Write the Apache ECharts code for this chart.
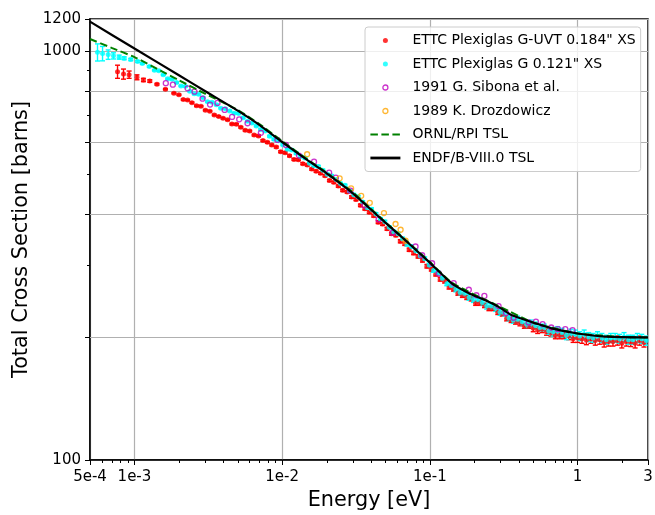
<!DOCTYPE html>
<html><head><meta charset="utf-8">
<script src="https://cdn.jsdelivr.net/npm/echarts@6/dist/echarts.min.js"></script>
<style>html,body{margin:0;padding:0;background:#fff}#c{width:655px;height:515px}</style>
</head><body><div id="c"></div>
<script>
// ---- axis ticks ----
const xTickValues = [5e-4, 1e-3, 1e-2, 1e-1, 1, 3];
const xTickLabels = ['5e-4', '1e-3', '1e-2', '1e-1', '1', '3'];
const yTickValues = [100, 1000, 1200];
const yTickLabels = ['100', '1000', '1200'];
const xMinorTicks = [6e-4, 7e-4, 8e-4, 9e-4, 2e-3, 3e-3, 4e-3, 5e-3, 6e-3, 7e-3, 8e-3, 9e-3,
  0.02, 0.03, 0.04, 0.05, 0.06, 0.07, 0.08, 0.09, 0.2, 0.3, 0.4, 0.5, 0.6, 0.7, 0.8, 0.9, 2];
const yMinorTicks = [300, 500, 700, 900];
const yGridExtra = [200, 400, 600, 800];

// ---- ETTC Plexiglas G-UVT 0.184" ----
const uvtE = [7.68e-4, 8.43e-4, 9.2e-4, 1.04e-3, 1.15e-3, 1.27e-3, 1.42e-3, 1.62e-3, 1.85e-3,
  2.00e-3, 2.14e-3, 2.29e-3, 2.45e-3, 2.63e-3, 2.82e-3, 3.02e-3, 3.24e-3, 3.47e-3, 3.72e-3,
  3.98e-3, 4.27e-3, 4.57e-3, 4.90e-3, 5.25e-3, 5.62e-3, 6.03e-3, 6.46e-3, 6.92e-3, 7.41e-3,
  7.94e-3, 8.51e-3, 9.12e-3, 9.77e-3, 0.01047, 0.01122, 0.01202, 0.01288, 0.01380, 0.01479,
  0.01585, 0.01698, 0.01820, 0.01950, 0.02089, 0.02239, 0.02399, 0.02570, 0.02754, 0.02951,
  0.03162, 0.03388, 0.03631, 0.03890, 0.04169, 0.04467, 0.04786, 0.05129, 0.05495, 0.05888,
  0.06310, 0.06761, 0.07244, 0.07762, 0.08318, 0.08913, 0.09550, 0.1023, 0.1096, 0.1175,
  0.1259, 0.1349, 0.1445, 0.1549, 0.1660, 0.1778, 0.1905, 0.2042, 0.2188, 0.2344,
  0.2512, 0.2692, 0.2884, 0.3090, 0.3311, 0.3548, 0.3802, 0.4074, 0.4365, 0.4677,
  0.5012, 0.5370, 0.5754, 0.6166, 0.6607, 0.7079, 0.7586, 0.8128, 0.8710, 0.9333,
  1.000, 1.072, 1.148, 1.230, 1.318, 1.413, 1.514, 1.622, 1.738, 1.862,
  1.995, 2.138, 2.291, 2.455, 2.630, 2.818];
const uvtV = [892, 880, 877, 864, 851, 846, 831, 808, 790,
  783, 762, 760, 749, 736, 734, 718, 714, 699, 693,
  686, 680, 664, 663, 652, 641, 638, 624, 621, 605,
  599, 590, 583, 568, 565, 555, 544, 543, 531, 527,
  515, 509, 503, 496, 483, 478, 468, 457, 453, 440,
  434, 420, 412, 404, 396, 382, 378, 368, 358, 355,
  343, 338, 327, 321, 315, 308, 298, 293, 285, 277,
  274, 265, 262, 256, 253, 250, 248, 242, 242, 239,
  235, 235, 230, 228, 222, 220, 218, 216, 213, 213,
  210, 208, 209, 206, 205, 202, 202, 202, 201, 198,
  199, 198, 196.5, 198, 196, 197, 194, 195, 195, 196,
  193, 195, 194.5, 193, 196, 194];
const uvtErr = [33, 25, 18, 12, 8, 6, 4, 3, 3,
  3, 3, 3, 3, 3, 3, 3, 3, 3, 3,
  3, 3, 3, 3, 3, 3, 3, 3, 3, 3,
  3, 3, 3, 3, 3, 3, 3, 3, 3, 3,
  3, 3, 3, 3, 3, 3, 3, 3, 3, 3,
  3, 3, 3, 3, 3, 3, 3, 3, 3, 3,
  3, 3, 3, 3, 3, 3, 3, 3, 3, 3,
  3, 3, 3, 3, 3, 3, 3, 3, 3, 3,
  3, 3, 3, 3, 3, 3, 3, 3, 3, 3,
  4, 4, 4, 4, 4, 4, 4, 4, 4, 4,
  5, 5, 5, 5, 5, 5, 5, 5, 5, 5,
  5, 5, 5, 5, 5, 5];

// ---- ETTC Plexiglas G 0.121" ----
const g121E = [5.62e-4, 6.08e-4, 6.64e-4, 7.21e-4, 7.88e-4, 8.52e-4, 9.44e-4, 1.05e-3, 1.13e-3, 1.26e-3,
  1.365e-3, 1.462e-3, 1.567e-3, 1.679e-3, 1.799e-3, 1.928e-3, 2.065e-3, 2.213e-3, 2.371e-3, 2.541e-3,
  2.723e-3, 2.917e-3, 3.126e-3, 3.350e-3, 3.589e-3, 3.846e-3, 4.121e-3, 4.416e-3, 4.732e-3, 5.070e-3,
  5.433e-3, 5.821e-3, 6.237e-3, 6.683e-3, 7.161e-3, 7.674e-3, 8.222e-3, 8.810e-3, 9.441e-3, 0.01012,
  0.01084, 0.01161, 0.01245, 0.01334, 0.01429, 0.01531, 0.01641, 0.01758, 0.01884, 0.02018,
  0.02163, 0.02317, 0.02483, 0.02661, 0.02851, 0.03055, 0.03273, 0.03508, 0.03758, 0.04027,
  0.04315, 0.04624, 0.04955, 0.05309, 0.05689, 0.06095, 0.06531, 0.06998, 0.07499, 0.08035,
  0.08610, 0.09226, 0.09886, 0.1059, 0.1135, 0.1216, 0.1303, 0.1396, 0.1496, 0.1603,
  0.1718, 0.1841, 0.1972, 0.2113, 0.2265, 0.2427, 0.2600, 0.2786, 0.2985, 0.3199,
  0.3428, 0.3673, 0.3936, 0.4217, 0.4519, 0.4842, 0.5188, 0.5559, 0.5957, 0.6383,
  0.6839, 0.7328, 0.7852, 0.8414, 0.9016, 0.9661, 1.035, 1.109, 1.189, 1.274,
  1.365, 1.462, 1.567, 1.679, 1.799, 1.928, 2.065, 2.213, 2.371, 2.541,
  2.723, 2.917];
const g121V = [995, 988, 982, 975, 968, 962, 955, 945, 934, 918,
  899, 896, 876, 857, 854, 839, 823, 821, 799, 787,
  785, 770, 753, 751, 740, 726, 724, 715, 706, 705,
  688, 674, 668, 657, 644, 638, 620, 609, 604, 591,
  576, 574, 563, 553, 548, 532, 525, 523, 512, 500,
  496, 486, 475, 470, 455, 446, 441, 428, 415, 411,
  400, 389, 383, 371, 362, 358, 348, 337, 333, 325,
  316, 311, 300, 291, 287, 278.5, 270, 267.5, 262, 257,
  256, 250, 247, 247, 243, 238, 238, 235, 230, 229,
  223, 220, 221, 218, 215, 216, 213.5, 211, 211, 207,
  206, 207, 205, 202, 204, 203, 201, 203, 200, 199,
  201, 199, 197, 199, 199, 198, 200, 197, 197, 199,
  198, 196];
const g121Err = [48, 40, 26, 17, 11, 8, 6, 5, 4, 4,
  3, 3, 3, 3, 3, 3, 3, 3, 3, 3,
  3, 3, 3, 3, 3, 3, 3, 3, 3, 3,
  3, 3, 3, 3, 3, 3, 3, 3, 3, 3,
  3, 3, 3, 3, 3, 3, 3, 3, 3, 3,
  3, 3, 3, 3, 3, 3, 3, 3, 3, 3,
  3, 3, 3, 3, 3, 3, 3, 3, 3, 3,
  3, 3, 3, 3, 3, 3, 3, 3, 4, 4,
  4, 4, 4, 4, 4, 4, 4, 4, 4, 4,
  4, 4, 4, 4, 4, 4, 4, 4, 4, 4,
  5, 5, 5, 5, 5, 5, 5, 5, 5, 5,
  5, 5, 5, 5, 5, 5, 5, 5, 5, 5,
  5, 5];

// ---- 1991 G. Sibona et al. ----
const sibE = [1.63e-3, 1.82e-3, 2.29e-3, 2.55e-3, 2.89e-3, 3.25e-3, 3.65e-3, 4.08e-3, 4.58e-3, 5.12e-3,
  5.83e-3, 7.18e-3, 9.29e-3, 1.06e-2, 1.3e-2, 1.644e-2, 2.08e-2, 2.31e-2, 2.9e-2, 3.6e-2,
  4.5e-2, 5.6e-2, 0.080, 0.0887, 0.1036, 0.115, 0.145, 0.1836, 0.2067, 0.234,
  0.292, 0.328, 0.369, 0.467, 0.523, 0.58, 0.664, 0.736, 0.826, 0.925];
const sibV = [836, 829, 812, 797, 766, 741, 748, 719, 691, 682,
  667, 632, 607, 590, 556, 537, 505, 491, 456, 420,
  388, 360, 333, 317, 303, 286, 271, 261, 253, 252,
  238, 229, 223, 217, 218, 215, 211, 209, 209, 208];

// ---- 1989 K. Drozdowicz ----
const droE = [0.01476, 0.0245, 0.0293, 0.0343, 0.0392, 0.0489, 0.0586, 0.0634, 0.0685];
const droV = [560, 489, 462, 443, 426, 402, 378, 366, 344];

// ---- ORNL/RPI TSL ----
const ornlE = [5e-4, 7e-4, 1e-3, 1.5e-3, 2e-3, 3e-3, 5e-3, 7e-3, 1e-2, 1.5e-2, 2e-2, 3e-2, 5e-2, 7e-2,
  0.1, 0.14, 0.2, 0.3, 0.5, 1, 2, 3];
const ornlV = [1072, 1020, 968, 897, 850, 788, 719, 664, 603, 542, 505, 452, 382, 343,
  305, 272, 254, 237, 217, 204, 200, 199.5];

// ---- ENDF/B-VIII.0 TSL ----
const endfE = [5e-4, 1e-3, 2e-3, 3e-3, 5e-3, 7e-3, 1e-2, 1.5e-2, 2e-2, 3e-2, 4.3e-2, 5e-2, 7e-2,
  0.1, 0.14, 0.1836, 0.2377, 0.292, 0.36, 0.518, 0.667, 1, 1.57, 3];
const endfV = [1182, 1016, 874, 800, 716, 661, 600, 540, 503, 450, 400, 381, 342,
  304, 271, 256, 246, 237, 226, 216, 210, 204, 200.4, 199.5];

const names = ['ETTC Plexiglas G-UVT 0.184" XS', 'ETTC Plexiglas G 0.121" XS',
  '1991 G. Sibona et al.', '1989 K. Drozdowicz', 'ORNL/RPI TSL', 'ENDF/B-VIII.0 TSL'];

const FONT = 'DejaVu Sans';
const X0 = xTickValues[0], X1 = xTickValues[xTickValues.length - 1];

function pairs(E, V) { return E.map((e, i) => [e, V[i]]); }
function nearestLabel(val, vals, labels) {
  let best = -1, bd = 1e9;
  vals.forEach((t, i) => { const d = Math.abs(Math.log10(val) - Math.log10(t)); if (d < bd) { bd = d; best = i; } });
  return bd < 0.01 ? labels[best] : '';
}
function errSeries(E, V, Err, color) {
  return {
    type: 'custom', silent: true, clip: true,
    data: E.map((e, i) => [e, V[i] - Err[i], V[i] + Err[i]]),
    encode: { x: 0, y: [1, 2] },
    renderItem: function (params, api) {
      const lo = api.coord([api.value(0), api.value(1)]);
      const hi = api.coord([api.value(0), api.value(2)]);
      const c = 2.5, st = { stroke: color, lineWidth: 1.4 };
      return { type: 'group', children: [
        { type: 'line', shape: { x1: lo[0], y1: lo[1], x2: hi[0], y2: hi[1] }, style: st },
        { type: 'line', shape: { x1: lo[0] - c, y1: lo[1], x2: lo[0] + c, y2: lo[1] }, style: st },
        { type: 'line', shape: { x1: hi[0] - c, y1: hi[1], x2: hi[0] + c, y2: hi[1] }, style: st }
      ] };
    }
  };
}

const chart = echarts.init(document.getElementById('c'), null, { renderer: 'canvas' });
chart.setOption({
  animation: false,
  backgroundColor: '#ffffff',
  grid: { left: 90, right: 7, top: 19, bottom: 55, show: true, borderColor: '#000', borderWidth: 1.5,
    containLabel: false, outerBoundsMode: 'none' },
  xAxis: {
    type: 'log', logBase: 10, min: X0, max: X1,
    name: 'Energy [eV]', nameLocation: 'middle', nameGap: 30,
    nameTextStyle: { fontFamily: FONT, fontSize: 20.8, color: '#000' },
    axisLine: { show: true, lineStyle: { color: '#000', width: 1.5 } },
    axisTick: { show: true, inside: false, length: 5, lineStyle: { color: '#000', width: 1 } },
    axisLabel: { show: true, interval: 0, margin: 10, fontFamily: FONT, fontSize: 15, color: '#000',
      showMinLabel: true, showMaxLabel: true,
      formatter: v => nearestLabel(v, xTickValues, xTickLabels) },
    splitLine: { show: true, lineStyle: { color: '#b0b0b0', width: 1.2 } },
    minorTick: { show: false }, minorSplitLine: { show: false }
  },
  yAxis: {
    type: 'log', logBase: 10, min: yTickValues[0], max: yTickValues[yTickValues.length - 1],
    name: 'Total Cross Section [barns]', nameLocation: 'middle', nameGap: 57,
    nameTextStyle: { fontFamily: FONT, fontSize: 20.8, color: '#000' },
    axisLine: { show: true, lineStyle: { color: '#000', width: 1.5 } },
    axisTick: { show: true, inside: false, length: 5, lineStyle: { color: '#000', width: 1 } },
    axisLabel: { show: true, interval: 0, margin: 9, fontFamily: FONT, fontSize: 15, color: '#000',
      showMinLabel: true, showMaxLabel: true,
      formatter: v => nearestLabel(v, yTickValues, yTickLabels) },
    splitLine: { show: true, lineStyle: { color: '#b0b0b0', width: 1.2 } },
    minorTick: { show: false }, minorSplitLine: { show: false }
  },
  legend: {
    orient: 'vertical', left: 365, top: 27,
    itemWidth: 30, itemHeight: 5, itemGap: 6.5,
    padding: [5, 5, 5, 4],
    backgroundColor: 'rgba(255,255,255,0.8)', borderColor: '#cccccc', borderWidth: 1, borderRadius: 3,
    textStyle: { fontFamily: FONT, fontSize: 14, color: '#000', lineHeight: 17, padding: [0, 0, 0, 7] },
    data: [
      { name: names[0], icon: 'circle', itemStyle: { color: '#ff0000', borderWidth: 0 } },
      { name: names[1], icon: 'circle', itemStyle: { color: '#00ffff', borderWidth: 0 } },
      { name: names[2], icon: 'circle', itemStyle: { color: 'rgba(0,0,0,0)', borderColor: '#bf00bf', borderWidth: 1.3 } },
      { name: names[3], icon: 'circle', itemStyle: { color: 'rgba(0,0,0,0)', borderColor: '#ffa500', borderWidth: 1.3 } },
      { name: names[4], itemStyle: { opacity: 0 }, lineStyle: { color: '#008000', width: 2, type: [7.5, 3.5] } },
      { name: names[5], itemStyle: { opacity: 0 }, lineStyle: { color: '#000000', width: 2.8 } }
    ]
  },
  series: [
    // extra horizontal grid lines with major ticks
    { type: 'custom', silent: true, clip: false, data: yGridExtra.map(v => [X0, v]),
      renderItem: function (params, api) {
        const p = api.coord([X0, api.value(1)]), q = api.coord([X1, api.value(1)]);
        const y = Math.round(p[1]) + 0.5;
        return { type: 'group', children: [
          { type: 'line', shape: { x1: p[0], y1: y, x2: q[0], y2: y }, style: { stroke: '#b0b0b0', lineWidth: 1.2 } },
          { type: 'line', shape: { x1: p[0] - 5, y1: y, x2: p[0], y2: y }, style: { stroke: '#000', lineWidth: 1 } }
        ] };
      } },
    // y minor ticks
    { type: 'custom', silent: true, clip: false, data: yMinorTicks.map(v => [X0, v]),
      renderItem: function (params, api) {
        const p = api.coord([X0, api.value(1)]);
        const y = Math.round(p[1]) + 0.5;
        return { type: 'line', shape: { x1: p[0] - 3, y1: y, x2: p[0], y2: y }, style: { stroke: '#000', lineWidth: 1 } };
      } },
    // x minor ticks
    { type: 'custom', silent: true, clip: false, data: xMinorTicks.map(e => [e, yTickValues[0]]),
      renderItem: function (params, api) {
        const p = api.coord([api.value(0), yTickValues[0]]);
        const x = Math.round(p[0]) + 0.5;
        return { type: 'line', shape: { x1: x, y1: p[1], x2: x, y2: p[1] + 3 }, style: { stroke: '#000', lineWidth: 1 } };
      } },
    errSeries(uvtE, uvtV, uvtErr, '#ff0000'),
    { name: names[0], type: 'scatter', data: pairs(uvtE, uvtV), symbol: 'circle', symbolSize: 5,
      itemStyle: { color: '#ff0000' }, silent: true },
    errSeries(g121E, g121V, g121Err, '#00ffff'),
    { name: names[1], type: 'scatter', data: pairs(g121E, g121V), symbol: 'circle', symbolSize: 5,
      itemStyle: { color: '#00ffff' }, silent: true },
    { name: names[2], type: 'scatter', data: pairs(sibE, sibV), symbol: 'circle', symbolSize: 5,
      itemStyle: { color: 'rgba(0,0,0,0)', borderColor: '#bf00bf', borderWidth: 1.3 }, silent: true },
    { name: names[3], type: 'scatter', data: pairs(droE, droV), symbol: 'circle', symbolSize: 5,
      itemStyle: { color: 'rgba(0,0,0,0)', borderColor: '#ffa500', borderWidth: 1.3 }, silent: true },
    { name: names[4], type: 'line', data: pairs(ornlE, ornlV), symbol: 'none', showSymbol: false, smooth: 0.2,
      lineStyle: { color: '#008000', width: 2, type: [7.5, 3.5] }, itemStyle: { color: '#008000' }, silent: true },
    { name: names[5], type: 'line', data: pairs(endfE, endfV), symbol: 'none', showSymbol: false, smooth: 0.2,
      lineStyle: { color: '#000000', width: 2.2 }, itemStyle: { color: '#000000' }, silent: true }
  ]
});
</script>
</body></html>
